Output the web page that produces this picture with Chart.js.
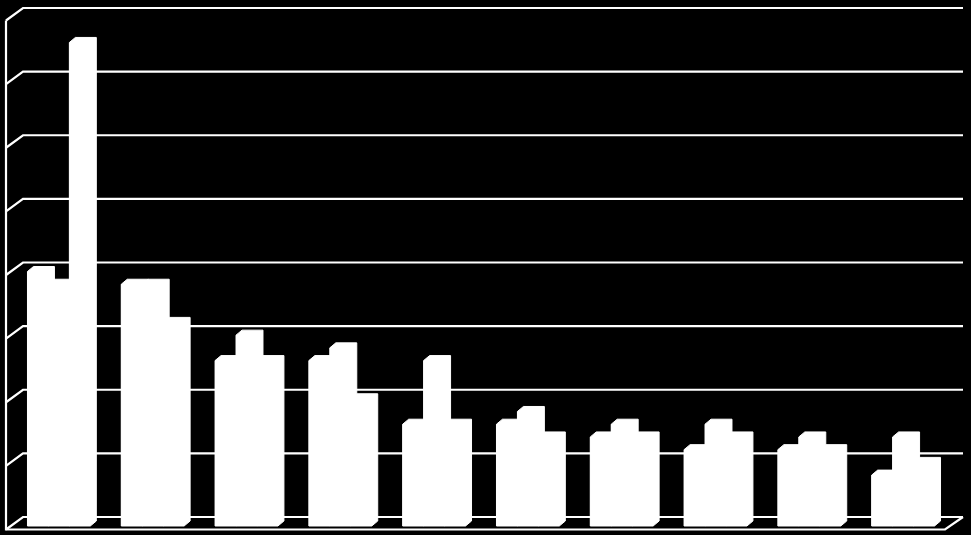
<!DOCTYPE html>
<html>
<head>
<meta charset="utf-8">
<script src="https://cdn.jsdelivr.net/npm/chart.js@4.4.1/dist/chart.umd.min.js"></script>
<style>
    html, body { margin: 0; padding: 0; background: #000; }
    canvas { display: block; }
</style>
</head>
<body>
<canvas id="barChart" width="971" height="535"></canvas>
<script>
// Data
const categories = ['1', '2', '3', '4', '5', '6', '7', '8', '9', '10'];
const series1 = [20, 19, 13, 13, 8, 8, 7, 6, 6, 4];
const series2 = [19, 19, 15, 14, 13, 9, 8, 8, 7, 7];
const series3 = [38, 16, 13, 10, 8, 7, 7, 7, 6, 5];
const yTicks = [0, 5, 10, 15, 20, 25, 30, 35, 40];

// 3D look
const barDepth = { dx: 6, dy: 5 };
const wallFront = { dx: -6, dy: 3.5 };
const wallBack = { dx: 11, dy: -9 };
const backRight = 13;
const frontRight = -5;

const wallPlugin = {
    id: 'walls',
    beforeDatasetsDraw(chart) {
        const { ctx, chartArea } = chart;
        const y = chart.scales.y;
        const left = chartArea.left;
        const right = chartArea.right;
        ctx.save();
        ctx.strokeStyle = '#ffffff';
        ctx.lineWidth = 2.2;
        ctx.lineJoin = 'miter';

        yTicks.forEach(v => {
            const py = y.getPixelForValue(v);
            ctx.beginPath();
            ctx.moveTo(left + wallFront.dx, py + wallFront.dy);
            ctx.lineTo(left + wallBack.dx, py + wallBack.dy);
            ctx.lineTo(right + backRight, py + wallBack.dy);
            ctx.stroke();
        });

        // left wall edge
        const top = y.getPixelForValue(yTicks[yTicks.length - 1]);
        const zero = y.getPixelForValue(0);
        ctx.beginPath();
        ctx.moveTo(left + wallFront.dx, top + wallFront.dy);
        ctx.lineTo(left + wallFront.dx, zero + wallFront.dy);
        // floor front and right edge
        ctx.lineTo(right + frontRight, zero + wallFront.dy);
        ctx.lineTo(right + backRight, zero + wallBack.dy);
        ctx.stroke();
        ctx.restore();
    },
    afterDatasetsDraw(chart) {
        const { ctx } = chart;
        ctx.save();
        ctx.fillStyle = '#ffffff';
        ctx.strokeStyle = '#ffffff';
        ctx.lineWidth = 1;
        ctx.lineJoin = 'miter';
        chart.data.datasets.forEach((ds, i) => {
            const meta = chart.getDatasetMeta(i);
            meta.data.forEach(bar => {
                const { x, y, base, width } = bar.getProps(['x', 'y', 'base', 'width'], true);
                const x0 = x - width / 2;
                const x1 = x + width / 2;
                // front + top + side as one solid block
                ctx.beginPath();
                ctx.moveTo(x0, base);
                ctx.lineTo(x0, y);
                ctx.lineTo(x0 + barDepth.dx, y - barDepth.dy);
                ctx.lineTo(x1 + barDepth.dx, y - barDepth.dy);
                ctx.lineTo(x1 + barDepth.dx, base - barDepth.dy);
                ctx.lineTo(x1, base);
                ctx.closePath();
                ctx.fill();
                ctx.stroke();
            });
        });
        ctx.restore();
    }
};

const makeSet = (label, data) => ({
    label: label,
    data: data,
    backgroundColor: '#ffffff',
    borderWidth: 0,
    categoryPercentage: 0.67,
    barPercentage: 1.0
});

new Chart(document.getElementById('barChart').getContext('2d'), {
    type: 'bar',
    plugins: [wallPlugin],
    data: {
        labels: categories,
        datasets: [
            makeSet('Series 1', series1),
            makeSet('Series 2', series2),
            makeSet('Series 3', series3)
        ]
    },
    options: {
        responsive: false,
        animation: false,
        devicePixelRatio: 1,
        layout: { padding: { left: 12, right: 21, top: 17, bottom: 9 } },
        plugins: {
            legend: { display: false },
            tooltip: { enabled: false }
        },
        scales: {
            x: { display: false },
            y: { display: false, min: 0, max: 40, ticks: { stepSize: 5 } }
        }
    }
});
</script>
</body>
</html>
